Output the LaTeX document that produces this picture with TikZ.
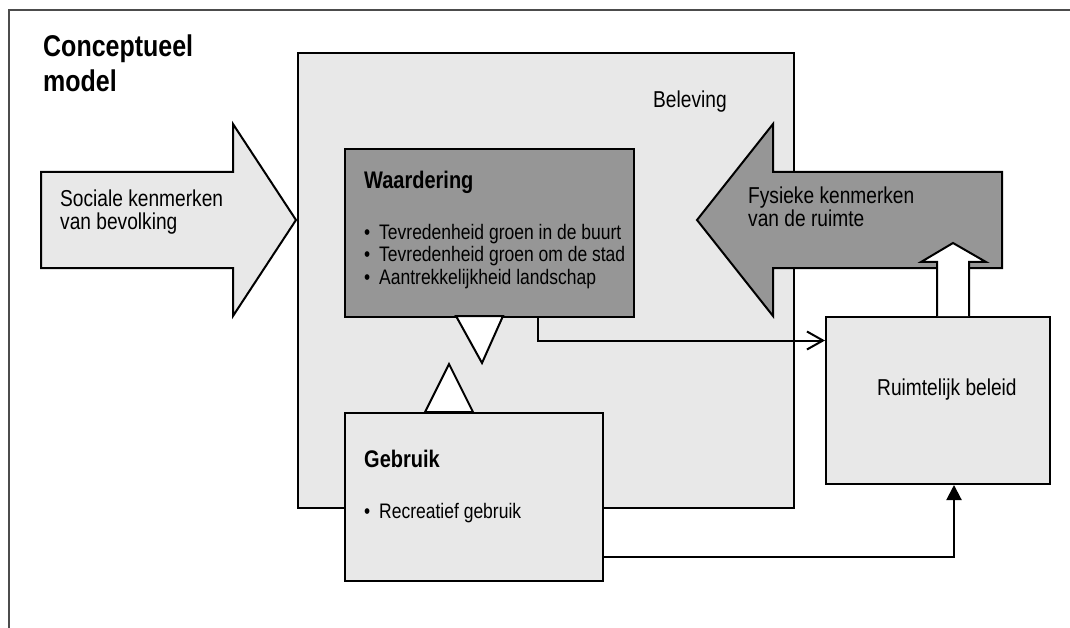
\documentclass[tikz,border=0pt]{standalone}
\usepackage{fontspec}
\setmainfont{Liberation Sans}[FakeStretch=0.833]
\usetikzlibrary{arrows.meta,calc}
\definecolor{lichtgrijs}{gray}{0.91}
\definecolor{donkergrijs}{gray}{0.59}
\tikzset{>=stealth,
  blok/.style={draw,line width=2pt,fill=lichtgrijs,inner sep=0pt,anchor=north west},
  tekst/.style={anchor=base west,inner sep=0pt,align=left,font=\fontsize{23}{23}\selectfont},
  kop/.style={anchor=base west,inner sep=0pt,font=\fontsize{24}{24}\selectfont\bfseries},
  lijst/.style={anchor=base west,inner sep=0pt,align=left,font=\fontsize{21}{22.5}\selectfont},
  vorm/.style={draw,line width=2pt,line join=miter}}
\newcommand{\bol}{\makebox[15pt][l]{\textbullet}}

\begin{document}
\begin{tikzpicture}[x=1pt,y=-1pt]
      \useasboundingbox (0,0) rectangle (1070,628);
      \draw[gray!60!black,line width=1.5pt] (9,628) -- (9,10) -- (1070,10);
      % anchor base = laatste regel
      \node[anchor=base west,inner sep=0pt,align=left,font=\fontsize{30}{35}\selectfont\bfseries] (titel) at (43,92) {Conceptueel\\model};
      % beleving
      \node[blok,minimum width=496pt,minimum height=455pt] (beleving) at (297,52) {};
      \node[tekst] (belevingtxt) at (653,108) {Beleving};
      % invloeden van buiten
      \filldraw[vorm,fill=lichtgrijs] (41,172) -- (233,172) -- (233,124) -- (296,220) -- (233,316) -- (233,268) -- (41,268) -- cycle;
      \node[tekst] (sociaal) at (60,230) {Sociale kenmerken\\van bevolking};
      \filldraw[vorm,fill=donkergrijs] (1002,172) -- (773,172) -- (773,124) -- (697,220) -- (773,316) -- (773,268) -- (1002,268) -- cycle;
      \node[tekst] (fysiek) at (748,227) {Fysieke kenmerken\\van de ruimte};
      % waardering en gebruik
      \node[blok,fill=donkergrijs,minimum width=289pt,minimum height=168pt] (waardering) at (344,148) {};
      \node[kop] (waarderingtxt) at (364,189) {Waardering};
      \node[lijst] (waarderinglijst) at (364,284) {\bol Tevredenheid groen in de buurt\\\bol Tevredenheid groen om de stad\\\bol Aantrekkelijkheid landschap};
      \node[blok,minimum width=258pt,minimum height=168pt] (gebruik) at (344,412) {};
      \node[kop] (gebruiktxt) at (364,467) {Gebruik};
      \node[lijst] (gebruiklijst) at (364,518) {\bol Recreatief gebruik};
      \filldraw[vorm,fill=white] (456,316) -- (503,316) -- (482,363) -- cycle;
      \filldraw[vorm,fill=white] (425,412) -- (473,412) -- (449,364) -- cycle;
      % beleid
      \node[blok,minimum width=224pt,minimum height=167pt] (beleid) at (825,316) {};
      \node[tekst] (beleidtxt) at (877,395) {Ruimtelijk beleid};
      \filldraw[vorm,fill=white] (937,316) -- (937,262) -- (921,262) -- (953,243) -- (986,262) -- (969,262) -- (969,316);
      \draw[line width=2pt,-{Straight Barb[length=16pt,width=18pt,line width=2pt]}] ([xshift=48pt]waardering.south) |- ([yshift=60pt]beleid.west);
      \draw[line width=2pt,-{Triangle[length=15pt,width=15pt]}] ([yshift=-60pt]gebruik.east) -| ([xshift=16pt]beleid.south);
\end{tikzpicture}
\end{document}
